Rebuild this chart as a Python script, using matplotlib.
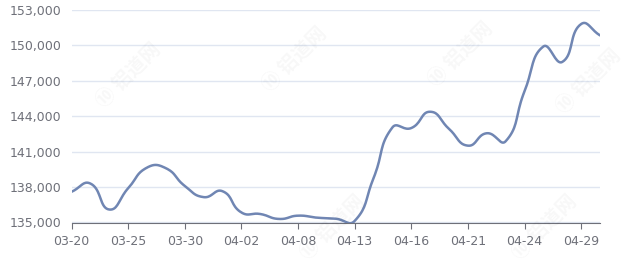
import numpy as np
import matplotlib.pyplot as plt

dates = ["03-20", "03-21", "03-22", "03-25", "03-26", "03-27", "03-30", "03-31",
         "04-01", "04-02", "04-03", "04-07", "04-08", "04-09", "04-10", "04-13",
         "04-14", "04-15", "04-16", "04-17", "04-20", "04-21", "04-22", "04-23",
         "04-24", "04-27", "04-28", "04-29", "04-30"]
prices = [137600, 138300, 136100, 137900, 139650, 139600, 138100, 137150,
          137650, 135850, 135720, 135300, 135580, 135410, 135320, 135130,
          138750, 143050, 143000, 144380, 142930, 141510, 142560, 141880,
          146110, 149910, 148600, 151810, 150850]

yticks = [135000, 138000, 141000, 144000, 147000, 150000, 153000]
label_every = 3

LINE = "#7086b3"
AXIS = "#6e7079"
GRID = "#e0e6f1"


def smooth_curve(xs, ys, sx, sy, smooth=0.5, n=20):
    # echarts-like bezier smoothing, computed in pixel-ish units
    px = np.asarray(xs, float) * sx
    py = np.asarray(ys, float) * sy
    pts = np.column_stack([px, py])
    cps = []
    for i in range(len(pts)):
        p = pts[i]
        prev = pts[max(i - 1, 0)]
        nxt = pts[min(i + 1, len(pts) - 1)]
        v = nxt - prev
        d0 = np.linalg.norm(p - prev)
        d1 = np.linalg.norm(nxt - p)
        tot = d0 + d1
        r0 = d0 / tot if tot else 0.5
        r1 = d1 / tot if tot else 0.5
        cps.append((p - v * smooth * r0, p + v * smooth * r1))
    out = []
    t = np.linspace(0, 1, n)[:, None]
    for i in range(len(pts) - 1):
        p0, p3 = pts[i], pts[i + 1]
        c1, c2 = cps[i][1], cps[i + 1][0]
        seg = ((1 - t) ** 3 * p0 + 3 * (1 - t) ** 2 * t * c1
               + 3 * (1 - t) * t ** 2 * c2 + t ** 3 * p3)
        out.append(seg if i == 0 else seg[1:])
    out = np.vstack(out)
    return out[:, 0] / sx, out[:, 1] / sy


fig = plt.figure(figsize=(6.4, 2.7), dpi=100)
ax = fig.add_axes([71.5 / 640, 1 - 222.5 / 270, (600 - 71.5) / 640, (222.5 - 10) / 270])

# faint watermarks
for (wx, wy) in [(0.20, 0.72), (0.46, 0.78), (0.92, 0.70), (0.72, 0.80), (0.52, 0.16), (0.85, 0.16)]:
    fig.text(wx, wy, "⑩ 铝道网", rotation=45, fontsize=14, color="#000000", alpha=0.03,
             family=["Noto Sans CJK SC", "DejaVu Sans"], ha="center", va="center",
             fontweight="bold", zorder=0)

x = np.arange(len(prices))
sx_px = (600 - 71.5) / (len(prices) - 1)
sy_px = 212.5 / 18000
cx, cy = smooth_curve(x, prices, sx_px, sy_px)
ax.plot(cx, cy, color=LINE, lw=1.8, solid_capstyle="round", zorder=3)

ax.set_xlim(0, len(prices) - 1)
ax.set_ylim(135000, 153000)
ax.set_yticks(yticks)
ax.set_yticklabels([f"{v:,}" for v in yticks])
ax.set_xticks(x[::label_every])
ax.set_xticklabels(dates[::label_every])
ax.grid(axis="y", color=GRID, lw=1)
ax.set_axisbelow(True)

for s in ["top", "right", "left"]:
    ax.spines[s].set_visible(False)
ax.spines["bottom"].set_color(AXIS)
ax.tick_params(axis="y", length=0, pad=7, labelsize=9, labelcolor=AXIS)
ax.tick_params(axis="x", length=4, color=AXIS, pad=5, labelsize=9, labelcolor=AXIS)

fig.savefig("out.png", dpi=100)
